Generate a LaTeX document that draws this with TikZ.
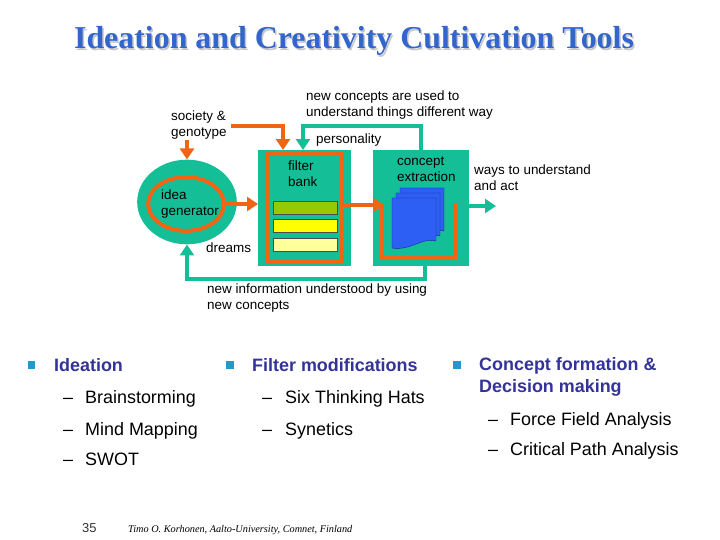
\documentclass[tikz,border=0pt]{standalone}
\usepackage{fontspec}
\setmainfont{Liberation Sans}
\newfontfamily\titleserif{Liberation Serif}
\usepackage{xcolor}
\usepackage{tikz}
\usetikzlibrary{arrows.meta,positioning,shapes.geometric,calc}
\definecolor{tealc}{RGB}{20,190,150}
\definecolor{orangec}{RGB}{240,100,20}
\definecolor{pagec}{RGB}{45,95,245}
\definecolor{pagedk}{RGB}{20,40,140}
\definecolor{headc}{RGB}{51,51,153}
\definecolor{titlec}{RGB}{51,102,204}
\definecolor{bulletc}{RGB}{40,150,200}
\definecolor{barA}{RGB}{150,200,0}
\definecolor{barB}{RGB}{255,255,0}
\definecolor{barC}{RGB}{255,255,155}
\tikzset{
  tealbox/.style={fill=tealc, draw=none, minimum height=116pt,
                  inner sep=0pt, anchor=north west},
  orline/.style={draw=orangec, line width=4pt},
  orarrow/.style={draw=orangec, line width=4pt,
                  -{Triangle[length=11pt,width=14pt]}},
  tlarrow/.style={draw=tealc, line width=3.5pt,
                  -{Triangle[length=11pt,width=14pt]}},
  lbl/.style={font=\fontsize{13.5}{16}\selectfont, align=left,
              inner sep=0pt, anchor=north west},
  barbox/.style={draw=black!70, thin, minimum width=64pt,
                 minimum height=13pt, inner sep=0pt, anchor=north west},
  pagebox/.style={fill=pagec, draw=pagedk, thin},
  headtxt/.style={font=\fontsize{18}{22}\selectfont\bfseries, text=headc,
                  align=left, inner sep=0pt, anchor=base west},
  itemtxt/.style={font=\fontsize{18}{22}\selectfont, inner sep=0pt,
                  anchor=base west},
  bulletsq/.style={fill=bulletc, minimum size=8pt, inner sep=0pt}
}
\begin{document}
\begin{tikzpicture}[x=1bp, y=-1bp]
    \useasboundingbox (0,0) rectangle (720,540);

    % Title
    \node[font=\titleserif\fontsize{32}{36}\selectfont\bfseries, text=black!22,
          anchor=base] (titleshadow) at (355.5,50.5)
      {Ideation and Creativity Cultivation Tools};
    \node[font=\titleserif\fontsize{32}{36}\selectfont\bfseries, text=titlec,
          anchor=base] (title) at (354,49)
      {Ideation and Creativity Cultivation Tools};

    % Idea generator
    \node[ellipse, fill=tealc, minimum width=100pt, minimum height=85pt]
      (gen) at (187,202) {};
    \node[ellipse, draw=orangec, line width=4pt, minimum width=76pt,
          minimum height=54pt] (genin) at (186,204) {};
    \node[lbl] (gentxt) at (161,190) {idea\\generator};

    % Filter bank
    \node[tealbox, minimum width=93pt] (filter) at (258,150) {};
    \draw[orline] (267,154) rectangle (342,262);
    \node[lbl] (filtertxt) at (288,161) {filter\\bank};
    \node[barbox, fill=barA] (barA) at (273,201) {};
    \node[barbox, fill=barB, below=5pt of barA] (barB) {};
    \node[barbox, fill=barC, below=5pt of barB] (barC) {};

    % Concept extraction
    \node[tealbox, minimum width=96pt] (concept) at (373,150) {};
    \node[lbl] (concepttxt) at (397,157) {concept\\extraction};
    \draw[orline] (382,203) -- (382,258) -- (455,258) -- (455,203);
    \draw[pagebox, shift={(8,-10)}] (392,198) -- (436,198) -- (436,241)
      .. controls (422,237) and (411,251) .. (392,248) -- cycle;
    \draw[pagebox, shift={(4,-5)}] (392,198) -- (436,198) -- (436,241)
      .. controls (422,237) and (411,251) .. (392,248) -- cycle;
    \draw[pagebox] (392,198) -- (436,198) -- (436,241)
      .. controls (422,237) and (411,251) .. (392,248) -- cycle;

    % Labels
    \node[lbl] (society) at (171,111) {society \&\\genotype};
    \node[lbl] (newconc) at (306,91)
      {new concepts are used to\\understand things different way};
    \node[lbl] (personality) at (316,134) {personality};
    \node[lbl] (ways) at (474,165) {ways to understand\\and act};
    \node[lbl] (dreams) at (206,243) {dreams};
    \node[lbl] (newinfo) at (207,284)
      {new information understood by using\\new concepts};
    \coordinate (socout) at (231,126);
    \coordinate (fbout) at (342,205);
    \coordinate (act) at (496,206);

    % Orange flow
    \draw[orarrow] (gen.north |- society.south) -- (gen.north);
    \draw[orarrow] (socout) -| ($(filter.north west)+(25,0)$);
    \draw[orarrow] (genin.east) -- (genin.east -| filter.west);
    \draw[orarrow] (fbout) -- (fbout -| 384,0);

    % Teal flow
    \draw[tlarrow] (concept.north) -- ++(0,-24) -| ($(filter.north west)+(45,0)$);
    \draw[tlarrow] (concept.east |- act) -- (act);
    \draw[tlarrow] ($(concept.south)+(4,0)$) -- ++(0,13) -| (gen.south);

    % Ideation column
    \def\xA{31.5} \def\xB{230} \def\xC{457}
    \node[bulletsq] (bA) at (\xA,365) {};
    \node[headtxt] (hA) at (54,371) {Ideation};
    \node[itemtxt] (dA1) at (63,403) {--};
    \node[itemtxt] (iA1) at (85,403) {Brainstorming};
    \node[itemtxt] (dA2) at (63,435) {--};
    \node[itemtxt] (iA2) at (85,435) {Mind Mapping};
    \node[itemtxt] (dA3) at (63,465) {--};
    \node[itemtxt] (iA3) at (85,465) {SWOT};

    % Filter column
    \node[bulletsq] (bB) at (\xB,365) {};
    \node[headtxt] (hB) at (252,371) {Filter modifications};
    \node[itemtxt] (dB1) at (262,403) {--};
    \node[itemtxt] (iB1) at (285,403) {Six Thinking Hats};
    \node[itemtxt] (dB2) at (262,435) {--};
    \node[itemtxt] (iB2) at (285,435) {Synetics};

    % Concept column
    \node[bulletsq] (bC) at (\xC,365) {};
    \node[headtxt, anchor=north west] (hC) at (479,357.5)
      {Concept formation \&\\Decision making};
    \node[itemtxt] (dC1) at (488,425) {--};
    \node[itemtxt] (iC1) at (510,425) {Force Field Analysis};
    \node[itemtxt] (dC2) at (488,455) {--};
    \node[itemtxt] (iC2) at (510,455) {Critical Path Analysis};

    % Footer
    \node[font=\fontsize{13}{15}\selectfont, text=black!80, inner sep=0pt,
          anchor=base west] (pagenum) at (82,532) {35};
    \node[font=\titleserif\fontsize{10.3}{12}\selectfont\itshape, inner sep=0pt,
          anchor=base west] (footer) at (128,532)
      {Timo O. Korhonen, Aalto-University, Comnet, Finland};
  \end{tikzpicture}
\end{document}
